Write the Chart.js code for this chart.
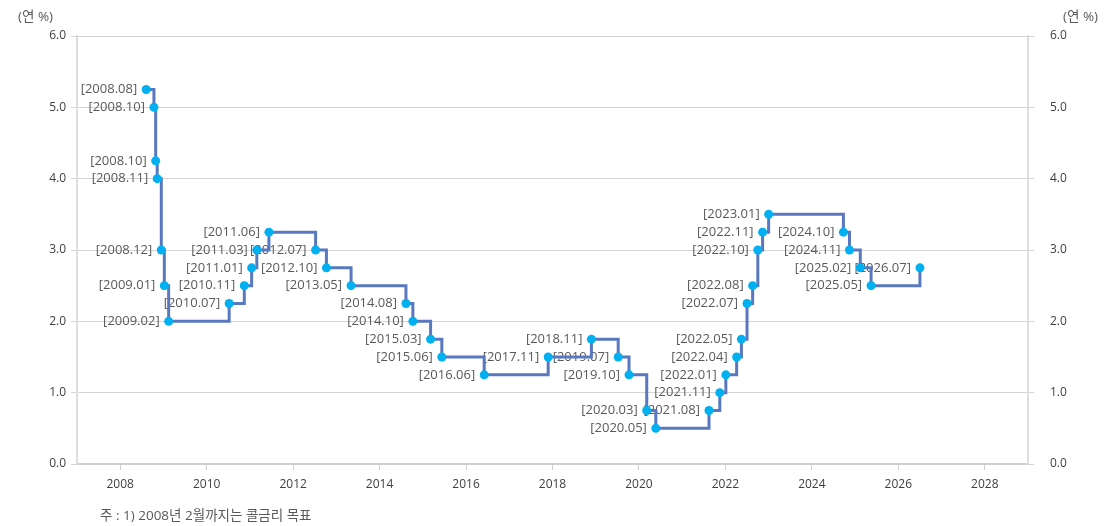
<!DOCTYPE html>
<html lang="ko">
<head>
<meta charset="utf-8">
<title>기준금리 추이</title>
<script src="https://cdn.jsdelivr.net/npm/chart.js@4.4.1/dist/chart.umd.min.js"></script>
<style>
  html, body { margin: 0; padding: 0; background: #fff; }
  #wrap { position: relative; width: 1104px; height: 526px; font-family: "Open Sans", "Noto Sans CJK KR", sans-serif; color: #595959; }
  #chart { position: absolute; left: 0; top: 0; }
  .unit { position: absolute; top: 6px; font-size: 13.5px; line-height: 20px; }
  #unitLeft { left: 18px; }
  #unitRight { left: 1063px; }
  #note { position: absolute; left: 100px; top: 505px; font-size: 13.5px; line-height: 20px; }
</style>
</head>
<body>
<div id="wrap">
  <canvas id="chart" width="1104" height="526"></canvas>
  <div class="unit" id="unitLeft">(연 %)</div>
  <div class="unit" id="unitRight">(연 %)</div>
  <div id="note">주 : 1) 2008년 2월까지는 콜금리 목표</div>
</div>
<script>
// point labels, as printed beside each point
const dateLabels = [
  '2008.08', '2008.10', '2008.10', '2008.11', '2008.12', '2009.01', '2009.02',
  '2010.07', '2010.11', '2011.01', '2011.03', '2011.06', '2012.07', '2012.10',
  '2013.05', '2014.08', '2014.10', '2015.03', '2015.06', '2016.06', '2017.11',
  '2018.11', '2019.07', '2019.10', '2020.03', '2020.05', '2021.08', '2021.11',
  '2022.01', '2022.04', '2022.05', '2022.07', '2022.08', '2022.10', '2022.11',
  '2023.01', '2024.10', '2024.11', '2025.02', '2025.05', '2026.07'
];

// horizontal position of each point, in decimal years
const xYears = [
  2008.60, 2008.78, 2008.82, 2008.855, 2008.95, 2009.02, 2009.12,
  2010.52, 2010.87, 2011.04, 2011.16, 2011.44, 2012.52, 2012.77,
  2013.34, 2014.61, 2014.77, 2015.18, 2015.44, 2016.42, 2017.90,
  2018.90, 2019.52, 2019.77, 2020.18, 2020.39, 2021.62, 2021.87,
  2022.01, 2022.26, 2022.37, 2022.50, 2022.63, 2022.75, 2022.86,
  2023.00, 2024.73, 2024.87, 2025.12, 2025.37, 2026.50
];

// rate (연 %)
const rates = [
  5.25, 5.00, 4.25, 4.00, 3.00, 2.50, 2.00,
  2.25, 2.50, 2.75, 3.00, 3.25, 3.00, 2.75,
  2.50, 2.25, 2.00, 1.75, 1.50, 1.25, 1.50,
  1.75, 1.50, 1.25, 0.75, 0.50, 0.75, 1.00,
  1.25, 1.50, 1.75, 2.25, 2.50, 3.00, 3.25,
  3.50, 3.25, 3.00, 2.75, 2.50, 2.75
];

const xTicks = [2008, 2010, 2012, 2014, 2016, 2018, 2020, 2022, 2024, 2026, 2028];
const yTicks = [0, 1, 2, 3, 4, 5, 6];

const FONT = '"Open Sans", "Noto Sans CJK KR", sans-serif';

// date labels sit left of each point, under the line and markers
const pointLabels = {
  id: 'pointLabels',
  beforeDatasetsDraw(chart) {
    const ctx = chart.ctx;
    const meta = chart.getDatasetMeta(0);
    ctx.save();
    ctx.font = '13px ' + FONT;
    ctx.fillStyle = '#595959';
    ctx.textAlign = 'right';
    ctx.textBaseline = 'middle';
    meta.data.forEach((pt, i) => {
      ctx.fillText('[' + dateLabels[i] + ']', pt.x - 9, pt.y);
    });
    ctx.restore();
  }
};

const yTickOpts = {
  color: '#404040',
  font: { family: FONT, size: 12 },
  callback: (v) => v.toFixed(1)
};

new Chart(document.getElementById('chart'), {
  type: 'line',
  data: {
    datasets: [{
      data: xYears.map((x, i) => ({ x: x, y: rates[i] })),
      stepped: true,
      borderColor: '#5a78bf',
      borderWidth: 3,
      pointRadius: 4.5,
      pointHoverRadius: 4.5,
      pointBackgroundColor: '#00b0f0',
      pointBorderColor: '#00b0f0',
      pointBorderWidth: 0
    }]
  },
  options: {
    responsive: false,
    animation: false,
    layout: { padding: { top: 36 } },
    plugins: {
      legend: { display: false },
      tooltip: { enabled: false }
    },
    scales: {
      x: {
        type: 'linear',
        min: 2007,
        max: 2029,
        afterBuildTicks: (s) => { s.ticks = xTicks.map((v) => ({ value: v })); },
        afterFit: (s) => { s.height = 62; },
        ticks: {
          color: '#404040',
          font: { family: FONT, size: 12 },
          padding: 7,
          maxRotation: 0,
          autoSkip: false,
          callback: (v) => String(v)
        },
        grid: { drawOnChartArea: false, tickLength: 6, color: '#cfcfcf' },
        border: { color: '#cfcfcf', width: 2 }
      },
      y: {
        position: 'left',
        min: 0,
        max: 6,
        afterBuildTicks: (s) => { s.ticks = yTicks.map((v) => ({ value: v })); },
        afterFit: (s) => { s.width = 77; },
        ticks: Object.assign({ padding: 5 }, yTickOpts),
        grid: { color: '#d4d4d4', tickLength: 6 },
        border: { color: '#dedede', width: 2 }
      },
      y2: {
        position: 'right',
        min: 0,
        max: 6,
        afterBuildTicks: (s) => { s.ticks = yTicks.map((v) => ({ value: v })); },
        afterFit: (s) => { s.width = 76; },
        ticks: Object.assign({ padding: 16 }, yTickOpts),
        grid: { drawOnChartArea: false, color: '#d4d4d4', tickLength: 6 },
        border: { color: '#dedede', width: 2 }
      }
    }
  },
  plugins: [pointLabels]
});
</script>
</body>
</html>
